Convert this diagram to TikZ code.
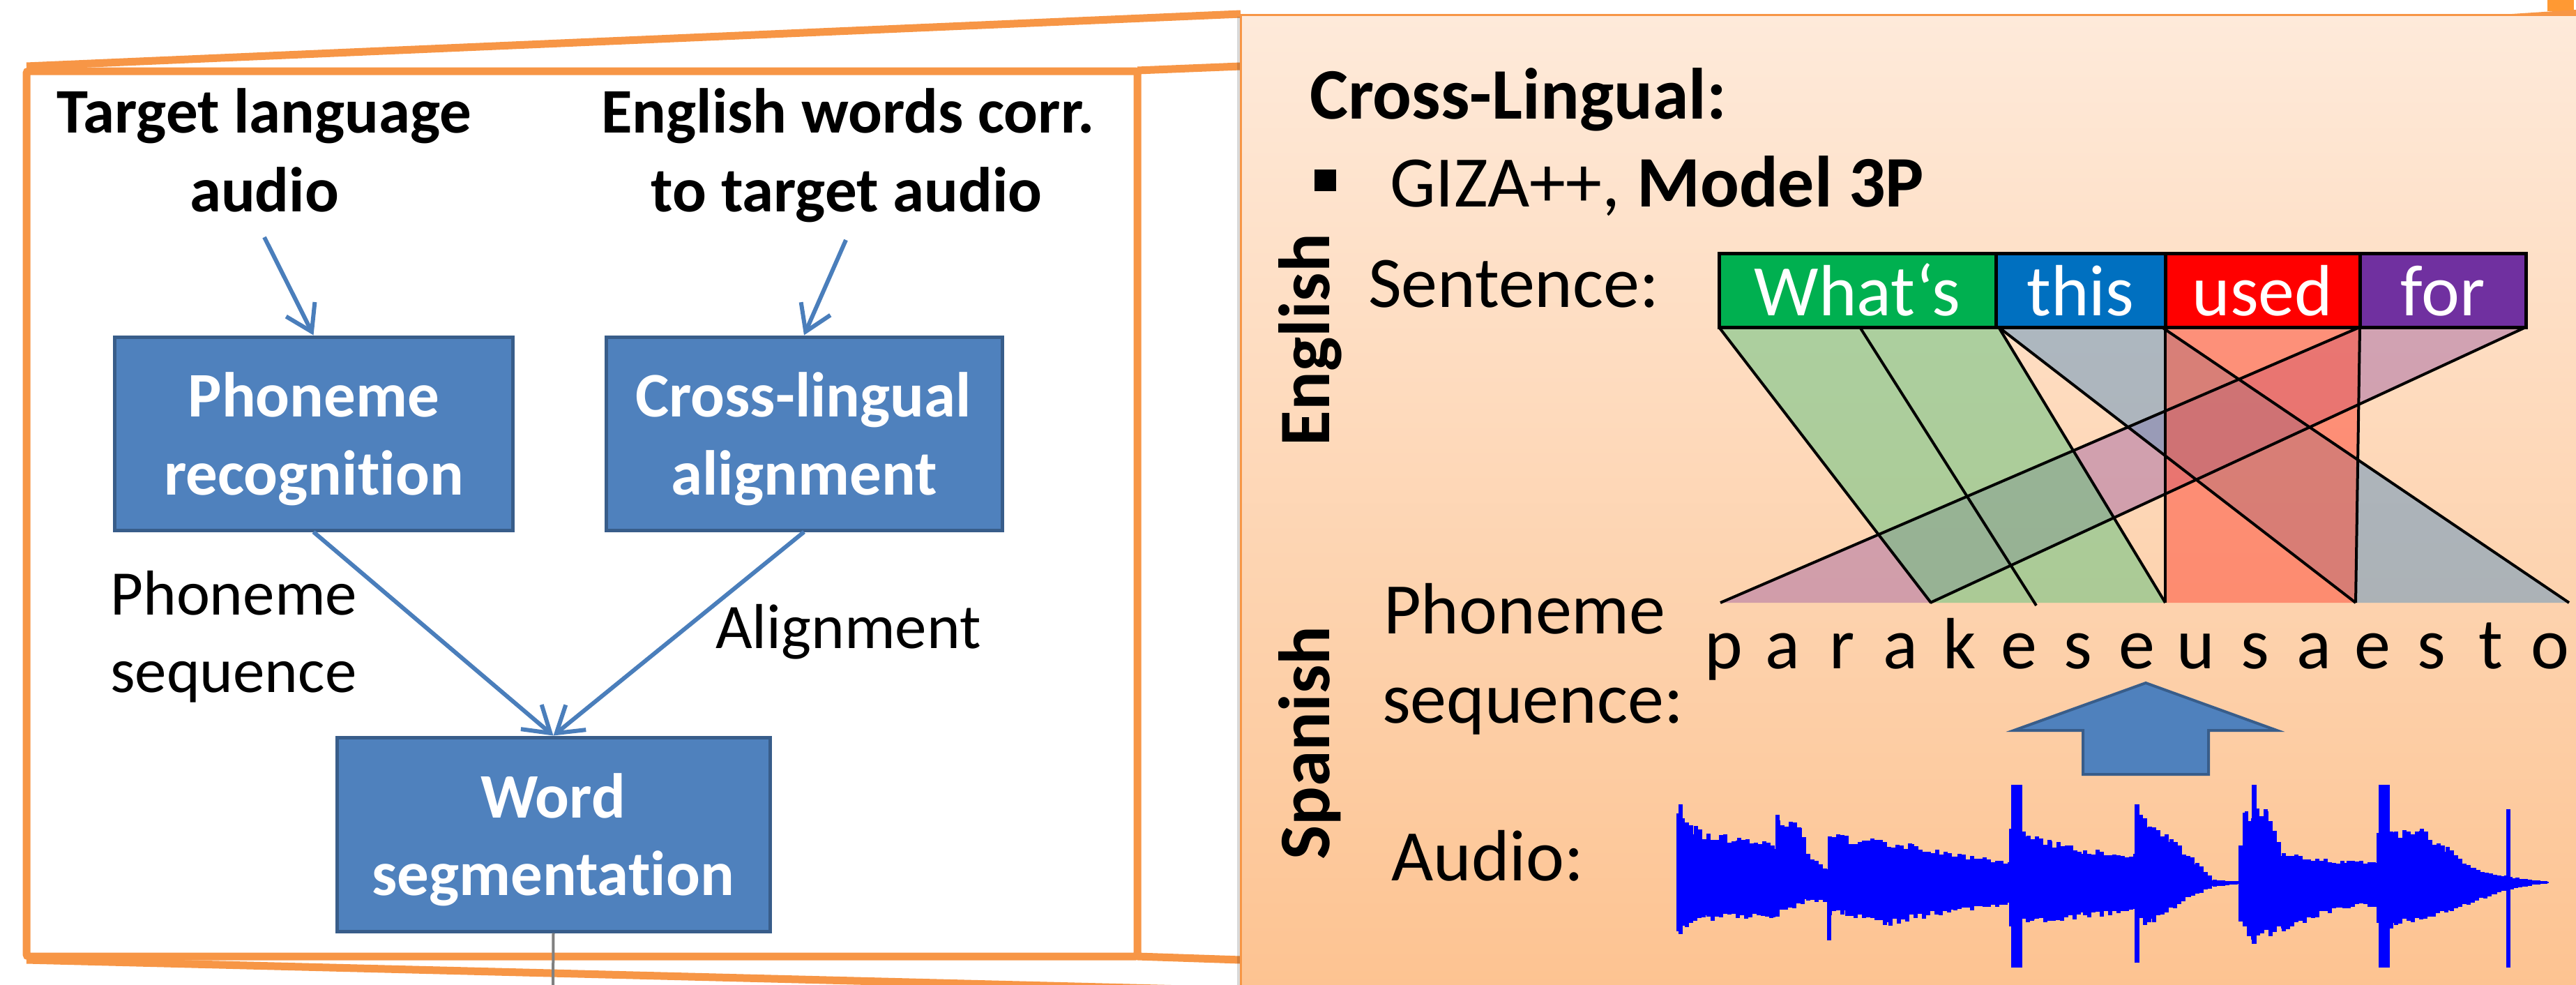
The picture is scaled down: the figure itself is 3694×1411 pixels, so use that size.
\documentclass[tikz,border=0pt]{standalone}
\usepackage{fontspec}
\setmainfont{Carlito}[Ligatures=NoCommon]
\usetikzlibrary{arrows.meta}
\definecolor{orng}{RGB}{247,150,70}
\definecolor{orngB}{RGB}{255,153,51}
\definecolor{boxblue}{RGB}{79,129,189}
\definecolor{boxedge}{RGB}{56,93,138}
\definecolor{arrblue}{RGB}{74,126,187}
\definecolor{pTop}{RGB}{254,234,218}
\definecolor{pBot}{RGB}{253,195,145}
\definecolor{wGreen}{RGB}{0,176,80}
\definecolor{wBlue}{RGB}{0,112,192}
\definecolor{wRed}{RGB}{255,0,0}
\definecolor{wPurple}{RGB}{112,48,160}
\definecolor{aGreen}{RGB}{105,196,130}
\definecolor{aBlue}{RGB}{107,152,190}
\definecolor{aRed}{RGB}{253,82,62}
\definecolor{aPurple}{RGB}{173,114,166}
\definecolor{wave}{RGB}{0,0,255}
\begin{document}
\begin{tikzpicture}[x=1pt,y=-1pt,
  lft/.style={font=\fontsize{91}{112}\selectfont, inner sep=0pt},
  lftb/.style={font=\fontsize{91}{112}\selectfont\bfseries, inner sep=0pt},
  rgt/.style={font=\fontsize{104}{125}\selectfont, inner sep=0pt},
  rgtb/.style={font=\fontsize{104}{125}\selectfont\bfseries, inner sep=0pt},
  bluebox/.style={draw=boxedge, fill=boxblue, line width=5pt, minimum height=277pt, inner sep=0pt},
  arr/.style={draw=arrblue, line width=6pt, -{Straight Barb[length=36pt,width=46pt,line width=6pt]}},
  wordbox/.style={rgt, draw=black, line width=5pt, minimum height=106pt, text=white, text height=73pt, text depth=0pt},
  algn/.style={draw=black, line width=4pt},
  orline/.style={draw=orng, line width=11pt},
  wavebar/.style={fill=wave}
]
\useasboundingbox (0,0) rectangle (3694,1411);
\clip (0,0) rectangle (3694,1411);
\fill[white] (0,0) rectangle (3694,1411);

% ---------- callout frame ----------
\draw[orline, rounded corners=3pt] (38,102) rectangle (1631,1371);
\draw[orline] (38,95) -- (1779,20);
\draw[orline] (1631,101) -- (1779,95);
\draw[orline] (1631,1371) -- (1779,1376);
\draw[orline] (38,1376) -- (1779,1420);

% ---------- right panel ----------
\shade[top color=pTop, bottom color=pBot] (1779,21) rectangle (3710,1420);
\draw[orng, line width=3pt] (3710,21) -- (1779,21) -- (1779,1420);
\fill[black, opacity=0.15] (1774,24) rectangle (1778,1420);
\fill[orngB] (3653,0) rectangle (3691,16);
\fill[orng] (3587,21) -- (3694,14) -- (3694,21) -- cycle;

% ---------- left flow chart ----------
\node[lftb, anchor=base] (t1a) at (379,190) {Target language};
\node[lftb, anchor=base] (t1b) at (379,303) {audio};
\node[lftb, anchor=base] (t2a) at (1216,190) {English words corr.};
\node[lftb, anchor=base] (t2b) at (1214,303) {to target audio};

\node[bluebox, minimum width=571pt] (phon) at (449.5,621.5) {};
\node[bluebox, minimum width=568pt] (cross) at (1153,621.5) {};
\node[bluebox, minimum width=621pt, minimum height=278pt] (word) at (793.5,1196) {};

\node[lftb, text=white, anchor=base] (phon1) at (450,597) {Phoneme};
\node[lftb, text=white, anchor=base] (phon2) at (450,709) {recognition};
\node[lftb, text=white, anchor=base] (cross1) at (1152,597) {Cross-lingual};
\node[lftb, text=white, anchor=base] (cross2) at (1153,709) {alignment};
\node[lftb, text=white, anchor=base] (word1) at (793,1172) {Word};
\node[lftb, text=white, anchor=base] (word2) at (793,1283) {segmentation};

\coordinate (s1) at (379,340);
\coordinate (s2) at (1213,344);
\draw[arr] (s1) -- (phon.north);
\draw[arr] (s2) -- (cross.north);
\draw[arr] (phon.south) -- (word.north);
\draw[arr] (cross.south) -- (word.north);

\node[lft, anchor=base west] (lab1) at (158,881) {Phoneme};
\node[lft, anchor=base west] (lab2) at (158,992) {sequence};
\node[lft, anchor=base west] (lab3) at (1026,929) {Alignment};

\coordinate (vend) at (793,1420);
\draw[gray, line width=4pt] (word.south) -- (vend);

% ---------- right panel content ----------
\node[rgtb, anchor=base west] (cl) at (1878,170) {Cross-Lingual:};
\node[fill=black, minimum size=31pt, inner sep=0pt] (bul) at (1900.5,258.5) {};
\node[rgt, anchor=base west] (giza) at (1993,296) {GIZA++, \textbf{Model 3P}};
\node[rgtb, rotate=90, anchor=base] (eng) at (1906,487) {English};
\node[rgtb, rotate=90, anchor=base] (spa) at (1906,1065) {Spanish};
\node[rgt, anchor=base west] (sent) at (1962,440) {Sentence:};

% alignment polygons
\fill[aPurple, opacity=0.55] (3384,469) -- (3622,469) -- (2768,864) -- (2467,864) -- cycle;
\fill[aGreen, opacity=0.55] (2465,469) -- (2667,469) -- (2920,864) -- (2769,864) -- cycle;
\fill[aGreen, opacity=0.55] (2667,469) -- (2866,469) -- (3105,864) -- (2920,864) -- cycle;
\fill[aBlue, opacity=0.55] (2866,469) -- (3100,469) -- (3684,864) -- (3378,864) -- cycle;
\fill[aRed, opacity=0.55] (3105,469) -- (3384,469) -- (3378,864) -- (3105,864) -- cycle;
\draw[algn] (2465,469) -- (2769,864);
\draw[algn] (2667,469) -- (2920,868);
\draw[algn] (2866,469) -- (3105,864);
\draw[algn] (2866,469) -- (3378,864);
\draw[algn] (3100,469) -- (3684,864);
\draw[algn] (3105,469) -- (3105,864);
\draw[algn] (3384,469) -- (3378,864);
\draw[algn] (3384,469) -- (2467,864);
\draw[algn] (3622,469) -- (2768,864);

\node[wordbox, fill=wGreen, minimum width=397pt] (w1) at (2663.5,416) {What‘s};
\node[wordbox, fill=wBlue, minimum width=243pt] (w2) at (2983.5,416) {this};
\node[wordbox, fill=wRed, minimum width=279pt] (w3) at (3244.5,416) {used};
\node[wordbox, fill=wPurple, minimum width=238pt] (w4) at (3503,416) {for};

\node[rgt, anchor=base west] (phl) at (1984,908) {Phoneme};
\node[rgt, anchor=base west] (seql) at (1982,1036) {sequence:};
\node[rgt, anchor=base west] (aud) at (1995,1262) {Audio:};

\foreach \ch [count=\i] in {p,a,r,a,k,e,s,e,u,s,a,e,s,t,o}
  \node[rgt, anchor=base] (ph\i) at ({2472+84.6*(\i-1)},958) {\ch};

% big arrow
\draw[fill=boxblue, draw=boxedge, line width=4pt, line join=miter]
  (3077,979) -- (3265,1047) -- (3167,1047) -- (3167,1110) -- (2987,1110) -- (2987,1047) -- (2888,1047) -- cycle;

% waveform
\pgfmathsetseed{12}
\draw[wave, line width=4pt] (2407,1265) -- (3653,1265);
\foreach \xa/\xb/\ua/\ub in {
 2407/2426/112/84, 2426/2444/84/75, 2444/2494/75/66, 2494/2543/66/57,
 2543/2550/57/100, 2550/2581/100/90, 2581/2593/90/43, 2593/2618/43/21,
 2618/2624/21/71, 2624/2667/71/66, 2667/2742/66/57, 2742/2804/57/43,
 2804/2884/43/30, 2884/2903/80/75, 2903/2940/75/62, 2940/2990/62/48,
 2990/3064/48/43, 3064/3083/100/93, 3083/3114/93/66, 3114/3151/66/30,
 3151/3176/30/4, 3176/3213/4/1, 3213/3219/60/102, 3219/3250/102/110,
 3250/3275/110/43, 3275/3362/43/32, 3362/3411/32/30, 3411/3436/80/75,
 3436/3473/75/77, 3473/3510/77/53, 3510/3548/53/21, 3548/3594/21/10,
 3594/3610/10/7, 3610/3653/7/1}{
  \pgfmathtruncatemacro\n{(\xb-\xa)/6}
  \foreach \i in {0,...,\n}{
    \pgfmathsetmacro\t{\i/max(\n,1)}
    \pgfmathsetmacro\xx{\xa+6*\i}
    \pgfmathsetmacro\uu{(\ua+(\ub-\ua)*\t)*(0.82+0.18*rnd)}
    \fill[wavebar] (\xx-3.2,1265-\uu) rectangle (\xx+3.2,1265);
  }
}
\foreach \xa/\xb/\da/\db in {
 2407/2444/74/56, 2444/2543/56/52, 2543/2593/52/29, 2593/2624/29/30,
 2624/2643/50/47, 2643/2705/47/63, 2705/2804/63/43, 2804/2884/43/34,
 2884/2915/65/61, 2915/2990/61/52, 2990/3064/52/45, 3064/3089/62/61,
 3089/3139/61/25, 3139/3176/25/6, 3176/3213/6/2, 3213/3232/60/88,
 3232/3275/88/70, 3275/3362/70/38, 3362/3411/38/35, 3411/3436/70/65,
 3436/3510/65/47, 3510/3572/47/20, 3572/3622/20/6, 3622/3653/6/1}{
  \pgfmathtruncatemacro\n{(\xb-\xa)/6}
  \foreach \i in {0,...,\n}{
    \pgfmathsetmacro\t{\i/max(\n,1)}
    \pgfmathsetmacro\xx{\xa+6*\i}
    \pgfmathsetmacro\dd{(\da+(\db-\da)*\t)*(0.82+0.18*rnd)}
    \fill[wavebar] (\xx-3.2,1265) rectangle (\xx+3.2,1265+\dd);
  }
}
\fill[wavebar] (2407,1153) rectangle (2413,1339);
\fill[wavebar] (2620,1265) rectangle (2626,1348);
\fill[wavebar] (2884,1125) rectangle (2900,1387);
\fill[wavebar] (3061,1153) rectangle (3068,1380);
\fill[wavebar] (3219,1163) rectangle (3224,1320);
\fill[wavebar] (3229,1125) rectangle (3236,1353);
\fill[wavebar] (3411,1125) rectangle (3427,1387);
\fill[wavebar] (3594,1160) rectangle (3600,1387);
\end{tikzpicture}
\end{document}
